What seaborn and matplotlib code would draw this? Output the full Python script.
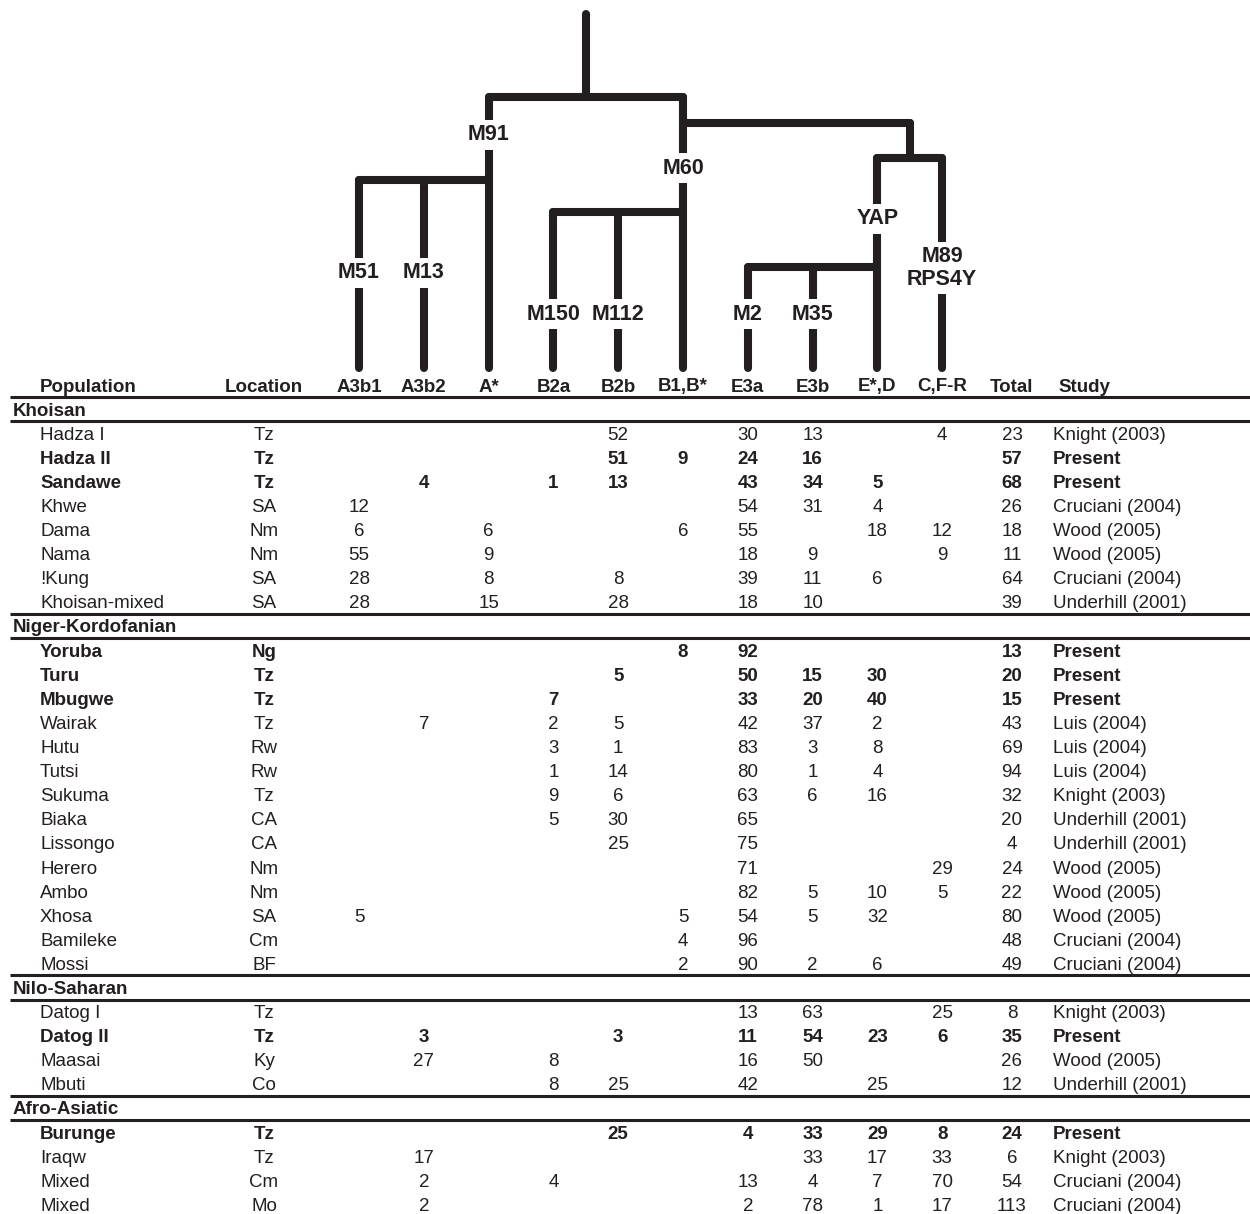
import numpy as np
import pandas as pd
import matplotlib.pyplot as plt
import seaborn as sns

# Table data
haplogroups = ['A3b1', 'A3b2', 'A*', 'B2a', 'B2b', 'B1,B*', 'E3a', 'E3b', 'E*,D', 'C,F-R']

groups = ['Khoisan', 'Niger-Kordofanian', 'Nilo-Saharan', 'Afro-Asiatic']
group_sizes = [8, 14, 4, 4]

populations = ['Hadza I', 'Hadza II', 'Sandawe', 'Khwe', 'Dama', 'Nama', '!Kung', 'Khoisan-mixed',
               'Yoruba', 'Turu', 'Mbugwe', 'Wairak', 'Hutu', 'Tutsi', 'Sukuma', 'Biaka', 'Lissongo',
               'Herero', 'Ambo', 'Xhosa', 'Bamileke', 'Mossi',
               'Datog I', 'Datog II', 'Maasai', 'Mbuti',
               'Burunge', 'Iraqw', 'Mixed', 'Mixed']
locations = ['Tz', 'Tz', 'Tz', 'SA', 'Nm', 'Nm', 'SA', 'SA',
             'Ng', 'Tz', 'Tz', 'Tz', 'Rw', 'Rw', 'Tz', 'CA', 'CA', 'Nm', 'Nm', 'SA', 'Cm', 'BF',
             'Tz', 'Tz', 'Ky', 'Co',
             'Tz', 'Tz', 'Cm', 'Mo']
present = [False, True, True, False, False, False, False, False,
           True, True, True, False, False, False, False, False, False, False, False, False, False, False,
           False, True, False, False,
           True, False, False, False]

N = None
#          A3b1 A3b2 A*  B2a B2b B1B* E3a E3b E*D CFR
values = [[N, N, N, N, 52, N, 30, 13, N, 4],
          [N, N, N, N, 51, 9, 24, 16, N, N],
          [N, 4, N, 1, 13, N, 43, 34, 5, N],
          [12, N, N, N, N, N, 54, 31, 4, N],
          [6, N, 6, N, N, 6, 55, N, 18, 12],
          [55, N, 9, N, N, N, 18, 9, N, 9],
          [28, N, 8, N, 8, N, 39, 11, 6, N],
          [28, N, 15, N, 28, N, 18, 10, N, N],
          [N, N, N, N, N, 8, 92, N, N, N],
          [N, N, N, N, 5, N, 50, 15, 30, N],
          [N, N, N, 7, N, N, 33, 20, 40, N],
          [N, 7, N, 2, 5, N, 42, 37, 2, N],
          [N, N, N, 3, 1, N, 83, 3, 8, N],
          [N, N, N, 1, 14, N, 80, 1, 4, N],
          [N, N, N, 9, 6, N, 63, 6, 16, N],
          [N, N, N, 5, 30, N, 65, N, N, N],
          [N, N, N, N, 25, N, 75, N, N, N],
          [N, N, N, N, N, N, 71, N, N, 29],
          [N, N, N, N, N, N, 82, 5, 10, 5],
          [5, N, N, N, N, 5, 54, 5, 32, N],
          [N, N, N, N, N, 4, 96, N, N, N],
          [N, N, N, N, N, 2, 90, 2, 6, N],
          [N, N, N, N, N, N, 13, 63, N, 25],
          [N, 3, N, N, 3, N, 11, 54, 23, 6],
          [N, 27, N, 8, N, N, 16, 50, N, N],
          [N, N, N, 8, 25, N, 42, N, 25, N],
          [N, N, N, N, 25, N, 4, 33, 29, 8],
          [N, 17, N, N, N, N, N, 33, 17, 33],
          [N, 2, N, 4, N, N, 13, 4, 7, 70],
          [N, 2, N, N, N, N, 2, 78, 1, 17]]
totals = [23, 57, 68, 26, 18, 11, 64, 39,
          13, 20, 15, 43, 69, 94, 32, 20, 4, 24, 22, 80, 48, 49,
          8, 35, 26, 12,
          24, 6, 54, 113]
studies = ['Knight (2003)', 'Present', 'Present', 'Cruciani (2004)', 'Wood (2005)', 'Wood (2005)',
           'Cruciani (2004)', 'Underhill (2001)',
           'Present', 'Present', 'Present', 'Luis (2004)', 'Luis (2004)', 'Luis (2004)', 'Knight (2003)',
           'Underhill (2001)', 'Underhill (2001)', 'Wood (2005)', 'Wood (2005)', 'Wood (2005)',
           'Cruciani (2004)', 'Cruciani (2004)',
           'Knight (2003)', 'Present', 'Wood (2005)', 'Underhill (2001)',
           'Present', 'Knight (2003)', 'Cruciani (2004)', 'Cruciani (2004)']

# Tree: internal node, its children, level of its joining bar, where its stem sits
tree_nodes = [('A', ['A3b1', 'A3b2', 'A*'], 180, 'last'),
              ('B', ['B2a', 'B2b', 'B1,B*'], 212, 'last'),
              ('E', ['E3a', 'E3b', 'E*,D'], 267, 'last'),
              ('DE', ['E', 'C,F-R'], 158, 'mid'),
              ('BDE', ['B', 'DE'], 123, 'first'),
              ('root', ['A', 'BDE'], 97, 'mid')]
root_top = 14
leaf_base = 368
# mutation label on the branch leading to a node, and its level
mutations = {'A3b1': ('M51', 271), 'A3b2': ('M13', 271), 'A': ('M91', 133),
             'B2a': ('M150', 312), 'B2b': ('M112', 312), 'B': ('M60', 166),
             'E3a': ('M2', 312), 'E3b': ('M35', 312), 'E': ('YAP', 217),
             'C,F-R': ('M89\nRPS4Y', 266)}

# layout (pixels)
W, H = 1250, 1214
col0, col_step = 359, 64.8
row0, row_step = 385, 24.1
dy = 2  # text baseline nudge
total_x, study_x, pop_x, group_x, loc_x = 1012, 1053, 40, 13, 264
ink = '#231f20'

sns.set_theme(style='white')
plt.rcParams['font.family'] = ['Liberation Sans', 'DejaVu Sans']

fig = plt.figure(figsize=(W / 100, H / 100), dpi=100)
ax = fig.add_axes([0, 0, 1, 1])

# node positions
xpos = {h: col0 + i * col_step for i, h in enumerate(haplogroups)}
level = {h: leaf_base for h in haplogroups}
for name, kids, lev, where in tree_nodes:
    xs = [xpos[k] for k in kids]
    xpos[name] = {'last': xs[-1], 'first': xs[0], 'mid': (min(xs) + max(xs)) / 2}[where]
    level[name] = lev

segs = []
for name, kids, lev, where in tree_nodes:
    xs = [xpos[k] for k in kids]
    segs.append([(min(xs), lev), (max(xs), lev)])
    for k in kids:
        segs.append([(xpos[k], lev), (xpos[k], level[k])])
segs.append([(xpos['root'], root_top), (xpos['root'], level['root'])])

seg_df = pd.DataFrame([(i, x, y) for i, s in enumerate(segs) for x, y in s],
                      columns=['seg', 'x', 'y'])
sns.lineplot(data=seg_df, x='x', y='y', units='seg', estimator=None, sort=False,
             color=ink, linewidth=5.8, solid_capstyle='round', legend=False, ax=ax)

for node, (lab, ly) in mutations.items():
    ax.text(xpos[node], ly + dy, lab, ha='center', va='center', fontsize=15.5, fontweight='bold',
            color=ink, linespacing=1.15, zorder=5,
            bbox=dict(facecolor='white', edgecolor='none', pad=3))

fs = 13.5
# header
hy = row0 + dy
ax.text(pop_x, hy, 'Population', ha='left', va='center', fontsize=fs, fontweight='bold', color=ink)
ax.text(loc_x, hy, 'Location', ha='center', va='center', fontsize=fs, fontweight='bold', color=ink)
for h in haplogroups:
    ax.text(xpos[h], hy, h, ha='center', va='center', fontsize=fs, fontweight='bold', color=ink)
ax.text(total_x, hy, 'Total', ha='center', va='center', fontsize=fs, fontweight='bold', color=ink)
ax.text(study_x + 5, hy, 'Study', ha='left', va='center', fontsize=fs, fontweight='bold', color=ink)

rules = [row0 + row_step / 2]
r = 1
p = 0
for g, n in zip(groups, group_sizes):
    gy = row0 + r * row_step
    ax.text(group_x, gy + dy, g, ha='left', va='center', fontsize=fs, fontweight='bold', color=ink)
    rules.append(gy + row_step / 2)
    if r > 1:
        rules.append(gy - row_step / 2)
    r += 1
    for _ in range(n):
        y = row0 + r * row_step + dy
        fw = 'bold' if present[p] else 'normal'
        ax.text(pop_x, y, populations[p], ha='left', va='center', fontsize=fs, fontweight=fw, color=ink)
        ax.text(loc_x, y, locations[p], ha='center', va='center', fontsize=fs, fontweight=fw, color=ink)
        for h, v in zip(haplogroups, values[p]):
            if v is not None:
                ax.text(xpos[h], y, str(v), ha='center', va='center', fontsize=fs, fontweight=fw, color=ink)
        ax.text(total_x, y, str(totals[p]), ha='center', va='center', fontsize=fs, fontweight=fw, color=ink)
        ax.text(study_x, y, studies[p], ha='left', va='center', fontsize=fs, fontweight=fw, color=ink)
        r += 1
        p += 1

ax.hlines(rules, 10, W, color=ink, linewidth=2.2)

ax.set_xlim(0, W)
ax.set_ylim(H, 0)
ax.axis('off')

fig.savefig('out.png', dpi=100, facecolor='white')
